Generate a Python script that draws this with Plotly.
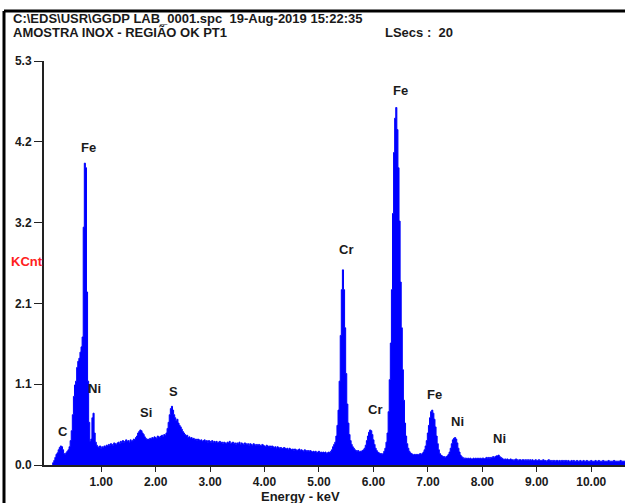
import numpy as np
import plotly.graph_objects as go

# EDS spectrum, 20 eV channels starting at 0.10 keV (counts in KCnt)
energy_start = 0.10
channel_width = 0.02
kcnt = [
    0.02, 0.03, 0.06, 0.10, 0.14, 0.16, 0.20, 0.23, 0.25, 0.24,
    0.20, 0.15, 0.14, 0.16, 0.18, 0.20, 0.24, 0.32, 0.45, 0.66,
    0.90, 1.05, 1.10, 1.28, 1.36, 1.40, 1.48, 1.55, 1.68, 3.12,
    3.96, 3.90, 2.27, 1.10, 0.56, 0.31, 0.34, 0.62, 0.68, 0.42,
    0.30, 0.26, 0.24, 0.23, 0.25, 0.22, 0.24, 0.23, 0.25, 0.24,
    0.26, 0.25, 0.27, 0.26, 0.28, 0.27, 0.26, 0.29, 0.28, 0.27,
    0.29, 0.30, 0.28, 0.31, 0.30, 0.32, 0.30, 0.31, 0.33, 0.31,
    0.32, 0.30, 0.33, 0.31, 0.32, 0.34, 0.33, 0.36, 0.38, 0.42,
    0.44, 0.46, 0.45, 0.42, 0.40, 0.37, 0.35, 0.33, 0.34, 0.33,
    0.35, 0.34, 0.36, 0.35, 0.37, 0.36, 0.35, 0.38, 0.37, 0.36,
    0.38, 0.39, 0.37, 0.40, 0.39, 0.42, 0.48, 0.56, 0.66, 0.74,
    0.77, 0.72, 0.66, 0.62, 0.58, 0.60, 0.55, 0.52, 0.50, 0.47,
    0.44, 0.42, 0.40, 0.38, 0.39, 0.36, 0.37, 0.35, 0.36, 0.34,
    0.35, 0.33, 0.34, 0.32, 0.34, 0.33, 0.32, 0.33, 0.31, 0.32,
    0.33, 0.31, 0.32, 0.30, 0.32, 0.31, 0.30, 0.32, 0.30, 0.31,
    0.30, 0.31, 0.29, 0.30, 0.31, 0.29, 0.30, 0.28, 0.30, 0.29,
    0.28, 0.30, 0.29, 0.31, 0.28, 0.29, 0.30, 0.28, 0.29, 0.27,
    0.29, 0.28, 0.30, 0.27, 0.29, 0.28, 0.27, 0.29, 0.28, 0.27,
    0.28, 0.26, 0.28, 0.27, 0.26, 0.28, 0.27, 0.26, 0.27, 0.25,
    0.27, 0.26, 0.25, 0.27, 0.26, 0.25, 0.24, 0.26, 0.25, 0.24,
    0.25, 0.23, 0.25, 0.24, 0.23, 0.24, 0.22, 0.24, 0.23, 0.22,
    0.23, 0.22, 0.21, 0.23, 0.22, 0.21, 0.22, 0.20, 0.22, 0.21,
    0.20, 0.21, 0.19, 0.21, 0.20, 0.19, 0.20, 0.21, 0.19, 0.20,
    0.19, 0.18, 0.20, 0.19, 0.18, 0.19, 0.17, 0.19, 0.18, 0.17,
    0.18, 0.17, 0.18, 0.16, 0.17, 0.18, 0.16, 0.17, 0.16, 0.17,
    0.16, 0.17, 0.15, 0.16, 0.17, 0.16, 0.18, 0.20, 0.24, 0.27,
    0.30, 0.38, 0.52, 0.72, 1.10, 1.70, 2.30, 2.56, 2.30, 1.80,
    1.20, 0.80, 0.55, 0.40, 0.32, 0.27, 0.24, 0.22, 0.20, 0.19,
    0.18, 0.19, 0.17, 0.18, 0.18, 0.19, 0.20, 0.22, 0.26, 0.32,
    0.38, 0.43, 0.46, 0.45, 0.40, 0.33, 0.27, 0.22, 0.19, 0.17,
    0.16, 0.15, 0.15, 0.14, 0.15, 0.18, 0.22, 0.30, 0.42, 0.70,
    1.12, 1.60, 2.30, 3.30, 4.10, 4.55, 4.69, 4.40, 3.90, 3.20,
    2.40, 1.80, 1.25, 0.85, 0.55, 0.38, 0.28, 0.22, 0.18, 0.16,
    0.15, 0.14, 0.13, 0.14, 0.13, 0.14, 0.13, 0.14, 0.15, 0.14,
    0.15, 0.17, 0.20, 0.25, 0.32, 0.42, 0.52, 0.62, 0.70, 0.72,
    0.68, 0.60, 0.50, 0.38, 0.28, 0.20, 0.15, 0.13, 0.12, 0.11,
    0.11, 0.10, 0.11, 0.12, 0.14, 0.17, 0.22, 0.28, 0.33, 0.35,
    0.36, 0.34, 0.29, 0.22, 0.17, 0.13, 0.11, 0.10, 0.09, 0.09,
    0.09, 0.08, 0.09, 0.08, 0.09, 0.08, 0.08, 0.09, 0.08, 0.09,
    0.08, 0.09, 0.08, 0.09, 0.08, 0.09, 0.09, 0.08, 0.09, 0.10,
    0.09, 0.10, 0.09, 0.10, 0.10, 0.11, 0.10, 0.11, 0.12, 0.12,
    0.13, 0.11, 0.10, 0.09, 0.08, 0.07, 0.08, 0.07, 0.08, 0.07,
    0.07, 0.08, 0.07, 0.07, 0.06, 0.07, 0.08, 0.07, 0.06, 0.07,
    0.07, 0.06, 0.07, 0.07, 0.06, 0.07, 0.06, 0.07, 0.06, 0.07,
    0.06, 0.07, 0.06, 0.06, 0.07, 0.06, 0.06, 0.07, 0.06, 0.06,
    0.06, 0.07, 0.06, 0.06, 0.05, 0.06, 0.07, 0.06, 0.06, 0.05,
    0.06, 0.06, 0.05, 0.06, 0.06, 0.05, 0.06, 0.05, 0.06, 0.06,
    0.05, 0.06, 0.06, 0.05, 0.06, 0.05, 0.05, 0.06, 0.05, 0.06,
    0.05, 0.05, 0.06, 0.05, 0.05, 0.06, 0.05, 0.05, 0.06, 0.05,
    0.05, 0.06, 0.05, 0.05, 0.05, 0.06, 0.05, 0.05, 0.05, 0.06,
    0.05, 0.05, 0.06, 0.05, 0.05, 0.05, 0.06, 0.05, 0.05, 0.05,
    0.05, 0.06, 0.05, 0.05, 0.05, 0.05, 0.06, 0.05, 0.05, 0.05,
    0.05, 0.05, 0.06, 0.05, 0.05, 0.05, 0.05, 0.05, 0.05, 0.05,
]

# Peak identifications: element, energy (keV), label height (KCnt)
peak_elements = ["C", "Fe", "Ni", "Si", "S", "Cr", "Cr", "Fe", "Fe", "Ni", "Ni"]
peak_energy = [0.29, 0.77, 0.88, 1.82, 2.33, 5.49, 6.03, 6.49, 7.13, 7.55, 8.32]
peak_label_y = [0.44, 4.16, 1.01, 0.69, 0.97, 2.83, 0.73, 4.91, 0.93, 0.57, 0.35]

# Axis ticks
y_tickvals = [0.0, 1.06, 2.12, 3.18, 4.24, 5.3]
y_ticktext = ["0.0", "1.1", "2.1", "3.2", "4.2", "5.3"]
x_tickvals = [1, 2, 3, 4, 5, 6, 7, 8, 9, 10]
x_ticktext = ["1.00", "2.00", "3.00", "4.00", "5.00", "6.00", "7.00", "8.00", "9.00", "10.00"]

header_line1 = "C:\\EDS\\USR\\GGDP LAB_0001.spc  19-Aug-2019 15:22:35"
header_line2 = "AMOSTRA INOX - REGIÃO OK PT1"
live_secs = "LSecs :  20"

energy = np.round(energy_start + channel_width * np.arange(len(kcnt)), 2)

W, H = 625, 503
M_L, M_R, M_T, M_B = 44, 0, 61, 38
PW, PH = W - M_L - M_R, H - M_T - M_B


def px(x, y):
    """Pixel position (from top-left) to paper coordinates."""
    return (x - M_L) / PW, (H - M_B - y) / PH


FONT = "Liberation Sans Narrow, Arial Narrow, Liberation Sans, Arial, sans-serif"
INK = "#1a1a1a"

fig = go.Figure()
fig.add_trace(go.Scatter(
    x=energy, y=kcnt, mode="lines",
    line=dict(color="#0000ff", width=1, shape="hvh"),
    fill="tozeroy", fillcolor="#0000ff",
    hoverinfo="x+y", showlegend=False,
))

annotations = []
for el, e, yl in zip(peak_elements, peak_energy, peak_label_y):
    annotations.append(dict(
        x=e, y=yl, xref="x", yref="y", text=f"<b>{el}</b>", showarrow=False,
        font=dict(family=FONT, size=13, color=INK), xanchor="center", yanchor="middle",
    ))


def text_at(x, y, txt, size=13, color=INK, xanchor="left"):
    xp, yp = px(x, y)
    annotations.append(dict(
        x=xp, y=yp, xref="paper", yref="paper", text=f"<b>{txt}</b>",
        showarrow=False, font=dict(family=FONT, size=size, color=color),
        xanchor=xanchor, yanchor="middle",
    ))


text_at(11, 19, header_line1)
text_at(11, 33, header_line2)
text_at(383, 33, live_secs)
text_at(9, 261, "KCnt", size=13, color="#ff2020")
text_at(300, 496, "Energy - keV", size=13, xanchor="center")

# Outer frame (left and top edges)
x0, y0 = px(4, 11)
x1, y1 = px(W + 5, H + 5)
shapes = [
    dict(type="line", xref="paper", yref="paper", x0=x0, y0=y0, x1=x1, y1=y0,
         line=dict(color="black", width=3)),
    dict(type="line", xref="paper", yref="paper", x0=x0, y0=y0, x1=x0, y1=y1,
         line=dict(color="black", width=3)),
]

fig.update_layout(
    width=W, height=H,
    margin=dict(l=M_L, r=M_R, t=M_T, b=M_B, pad=0),
    paper_bgcolor="white", plot_bgcolor="white",
    annotations=annotations, shapes=shapes,
    showlegend=False,
    xaxis=dict(
        range=[-0.05, 10.62], showgrid=False, zeroline=False,
        showline=True, linecolor="#222", linewidth=2,
        ticks="outside", ticklen=5, tickwidth=1, tickcolor="#222",
        tickvals=x_tickvals, ticktext=x_ticktext,
        tickfont=dict(family=FONT, size=12, color=INK, weight="bold"),
        fixedrange=True,
    ),
    yaxis=dict(
        range=[0, 5.3], showgrid=False, zeroline=False,
        showline=True, linecolor="#222", linewidth=2,
        ticks="outside", ticklen=8, tickwidth=1, tickcolor="#222",
        tickvals=y_tickvals, ticktext=y_ticktext,
        tickfont=dict(family=FONT, size=12, color=INK, weight="bold"),
        fixedrange=True,
    ),
)

fig.write_html("out.html")
